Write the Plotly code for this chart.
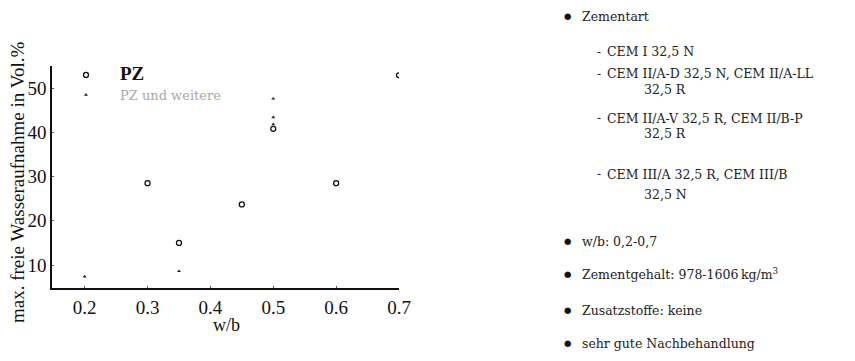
import plotly.graph_objects as go

# Messwerte: maximale freie Wasseraufnahme über w/b
wb_pz = [0.3, 0.35, 0.45, 0.5, 0.6, 0.7]
water_pz = [28.5, 15.0, 23.7, 40.8, 28.5, 52.9]

wb_more = [0.2, 0.35, 0.5, 0.5, 0.5]
water_more = [7.4, 8.6, 47.6, 43.4, 41.8]

x_ticks = [0.2, 0.3, 0.4, 0.5, 0.6, 0.7]
y_ticks = [10, 20, 30, 40, 50]

# Randbedingungen (Textblock rechts)
side_lines = [
    ("bullet", "Zementart", 16),
    ("dash", "CEM I 32,5 N", 52),
    ("dash", "CEM II/A-D 32,5 N, CEM II/A-LL", 74),
    ("cont", "32,5 R", 89),
    ("dash", "CEM II/A-V 32,5 R, CEM II/B-P", 118),
    ("cont", "32,5 R", 133),
    ("dash", "CEM III/A 32,5 R, CEM III/B", 174),
    ("cont", "32,5 N", 194),
    ("bullet", "w/b: 0,2-0,7", 241),
    ("bullet", "Zementgehalt: 978-1606\u2009kg/m<sup>3</sup>", 274),
    ("bullet", "Zusatzstoffe: keine", 310),
    ("bullet", "sehr gute Nachbehandlung", 343),
]

W, H = 855, 361
L, R, T, B = 52, 456, 66, 73
PW, PH = W - L - R, H - T - B

SERIF = "Liberation Serif"
SIDE_FONT = "DejaVu Serif"


def px_x(px):
    return (px - L) / PW


def px_y(py):
    return (H - B - py) / PH


fig = go.Figure()
fig.add_trace(go.Scatter(
    x=wb_pz, y=water_pz, mode="markers",
    name="<span style='font-size:19px'><b>PZ</b></span>",
    marker=dict(symbol="circle-open", size=5, color="#111",
                line=dict(width=1.3, color="#111")),
))
fig.add_trace(go.Scatter(
    x=wb_more, y=water_more, mode="markers",
    name="<span style='color:#a8a8a8;font-family:DejaVu Serif'>PZ und weitere</span>",
    marker=dict(symbol="triangle-up", size=3.5, color="#222"),
))

annotations = []
for kind, text, py in side_lines:
    if kind == "bullet":
        annotations.append(dict(text="\u25cf", x=px_x(567), y=px_y(py),
                                xanchor="center", yanchor="middle",
                                font=dict(size=8.5, color="#111",
                                          family="DejaVu Sans")))
        tx = 580
    elif kind == "dash":
        annotations.append(dict(text="-", x=px_x(599), y=px_y(py),
                                xanchor="center", yanchor="middle",
                                font=dict(size=12, color="#222",
                                          family=SIDE_FONT)))
        tx = 605
    else:
        tx = 642
    annotations.append(dict(text=text, x=px_x(tx), y=px_y(py),
                            xanchor="left", yanchor="middle",
                            font=dict(size=12.5, color="#222",
                                      family=SIDE_FONT)))

# Achsentitel als freie Texte
annotations.append(dict(text="max. freie Wasseraufnahme in Vol.%",
                        x=px_x(17), y=px_y(183), textangle=-90,
                        xanchor="center", yanchor="middle",
                        font=dict(size=19, family=SERIF, color="#111")))
annotations.append(dict(text="w/b", x=px_x(226), y=px_y(325),
                        xanchor="center", yanchor="middle",
                        font=dict(size=18, family=SERIF, color="#111")))
for a in annotations:
    a.update(xref="paper", yref="paper", showarrow=False)

fig.update_layout(
    width=W, height=H,
    margin=dict(l=L, r=R, t=T, b=B, pad=0),
    paper_bgcolor="white", plot_bgcolor="white",
    font=dict(family=SERIF, color="#111", size=16),
    showlegend=True,
    legend=dict(x=px_x(52), y=px_y(60), xanchor="left", yanchor="top",
                bgcolor="rgba(0,0,0,0)", font=dict(size=13, family=SERIF),
                itemwidth=58, tracegroupgap=0),
    annotations=annotations,
    xaxis=dict(
        range=[0.148, 0.7], tickvals=x_ticks,
        ticktext=[f"{v:.1f}" for v in x_ticks],
        showgrid=False, zeroline=False, showline=True,
        linecolor="#111", linewidth=1.5, mirror=False,
        ticks="inside", ticklen=2, tickcolor="#555",
        tickfont=dict(size=19, family=SERIF),
        ticklabelstandoff=1,
    ),
    yaxis=dict(
        range=[4.8, 55], tickvals=y_ticks,
        showgrid=False, zeroline=False, showline=True,
        linecolor="#111", linewidth=1.5, mirror=False,
        ticks="inside", ticklen=2, tickcolor="#555",
        tickfont=dict(size=19, family=SERIF),
    ),
)

fig.write_html("out.html")
